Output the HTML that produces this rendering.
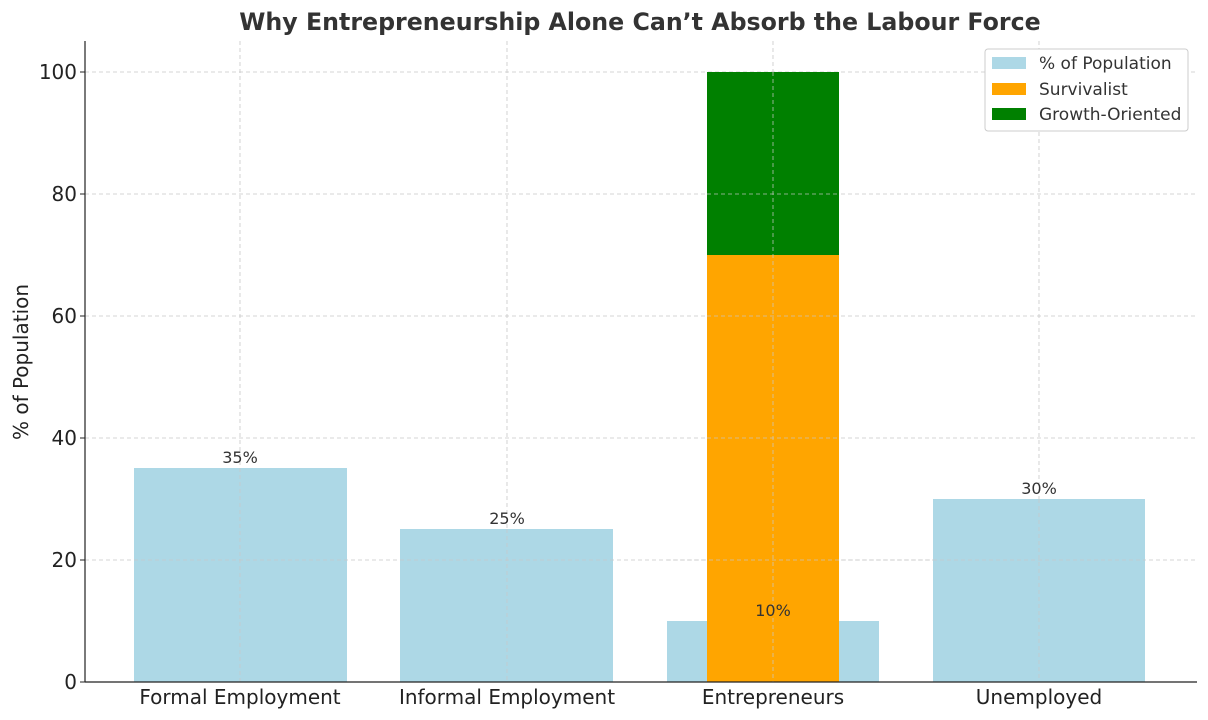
<!DOCTYPE html>
<html><head><meta charset="utf-8"><style>
body{margin:0;background:#fff;}
svg{display:block;font-family:"DejaVu Sans","Liberation Sans",sans-serif;}
</style></head><body>
<svg width="1208" height="720" viewBox="0 0 1208 720">
<rect width="1208" height="720" fill="#fff"/>
<text x="640" y="30" text-anchor="middle" font-size="23.7" font-weight="bold" fill="#333">Why Entrepreneurship Alone Can’t Absorb the Labour Force</text>
<g stroke="#c8c8c8" stroke-dasharray="4,3" stroke-width="0.8">
<line x1="85" x2="1197" y1="560" y2="560"/><line x1="85" x2="1197" y1="438" y2="438"/>
<line x1="85" x2="1197" y1="316" y2="316"/><line x1="85" x2="1197" y1="194" y2="194"/>
<line x1="85" x2="1197" y1="72" y2="72"/>
<line x1="240" x2="240" y1="41" y2="682"/><line x1="507" x2="507" y1="41" y2="682"/>
<line x1="773" x2="773" y1="41" y2="682"/><line x1="1039" x2="1039" y1="41" y2="682"/>
</g>
<g fill="#add8e6">
<rect x="134" y="468" width="213" height="214"/>
<rect x="400" y="529" width="213" height="153"/>
<rect x="667" y="621" width="212" height="61"/>
<rect x="933" y="499" width="212" height="183"/>
</g>
<rect x="707" y="255" width="132" height="427" fill="#ffa500"/>
<rect x="707" y="72" width="132" height="183" fill="#008000"/>
<g stroke="#c8c8c8" stroke-dasharray="4,3" stroke-width="0.8" opacity="0.9">
<line x1="240" x2="240" y1="468" y2="682"/><line x1="507" x2="507" y1="529" y2="682"/>
<line x1="773" x2="773" y1="72" y2="682"/><line x1="1039" x2="1039" y1="499" y2="682"/>
<line x1="134" x2="347" y1="560" y2="560"/><line x1="400" x2="613" y1="560" y2="560"/>
<line x1="667" x2="1145" y1="560" y2="560"/><line x1="707" x2="839" y1="438" y2="438"/>
<line x1="707" x2="839" y1="316" y2="316"/><line x1="707" x2="839" y1="194" y2="194"/>
</g>
<g font-size="16" fill="#333" text-anchor="middle">
<text x="240" y="463">35%</text><text x="507" y="524">25%</text>
<text x="773" y="616">10%</text><text x="1039" y="494">30%</text>
</g>
<line x1="85" y1="41" x2="85" y2="682" stroke="#222" stroke-width="1.2"/>
<line x1="85" y1="682" x2="1197" y2="682" stroke="#222" stroke-width="1.2"/>
<g font-size="20" fill="#222" text-anchor="end">
<text x="77" y="689">0</text><text x="77" y="567">20</text><text x="77" y="445">40</text>
<text x="77" y="323">60</text><text x="77" y="201">80</text><text x="77" y="79">100</text>
</g>
<g stroke="#222"><line x1="80" x2="85" y1="682" y2="682"/><line x1="80" x2="85" y1="560" y2="560"/><line x1="80" x2="85" y1="438" y2="438"/><line x1="80" x2="85" y1="316" y2="316"/><line x1="80" x2="85" y1="194" y2="194"/><line x1="80" x2="85" y1="72" y2="72"/></g>
<g font-size="20" fill="#222" text-anchor="middle">
<text x="240" y="704">Formal Employment</text><text x="507" y="704">Informal Employment</text>
<text x="773" y="704">Entrepreneurs</text><text x="1039" y="704">Unemployed</text>
</g>
<text transform="translate(28,362) rotate(-90)" text-anchor="middle" font-size="20" fill="#222">% of Population</text>
<rect x="985" y="49" width="203" height="82" fill="#fff" stroke="#ccc" rx="3"/>
<rect x="992" y="57" width="34" height="12" fill="#add8e6"/>
<rect x="992" y="83" width="34" height="12" fill="#ffa500"/>
<rect x="992" y="108" width="34" height="12" fill="#008000"/>
<g font-size="17" fill="#333">
<text x="1039" y="69">% of Population</text><text x="1039" y="95">Survivalist</text><text x="1039" y="120">Growth-Oriented</text>
</g>
</svg>
</body></html>
